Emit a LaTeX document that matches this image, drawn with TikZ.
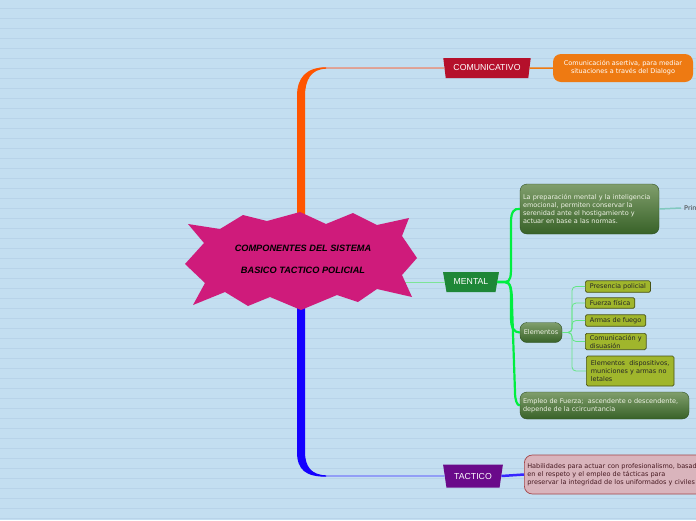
\documentclass[tikz,border=0pt]{standalone}
\usepackage{fontspec}
\setmainfont{DejaVu Sans}
\newfontfamily\arial{Liberation Sans}
\usetikzlibrary{shapes.geometric}

\definecolor{cfondo}{RGB}{195,222,240}
\definecolor{crenglon}{RGB}{184,211,233}
\definecolor{cestrella}{RGB}{207,27,123}
\definecolor{ccomu}{RGB}{181,16,43}
\definecolor{cmental}{RGB}{30,135,55}
\definecolor{ctactico}{RGB}{106,10,138}
\definecolor{ctroncoO}{RGB}{255,85,0}
\definecolor{cramaO}{RGB}{240,135,105}
\definecolor{ctroncoB}{RGB}{20,0,255}
\definecolor{cramaB}{RGB}{120,125,250}
\definecolor{cverdeR}{RGB}{0,238,64}
\definecolor{cverdeC}{RGB}{125,228,150}
\definecolor{cverdeA}{RGB}{128,158,108}
\definecolor{cverdeB}{RGB}{56,98,40}
\definecolor{coliva}{RGB}{160,182,44}
\definecolor{cnaranja}{RGB}{238,122,18}
\definecolor{crosa}{RGB}{217,180,188}
\definecolor{cteal}{RGB}{128,200,190}

\newcommand\chico{\fontsize{6.5}{8}\selectfont}
\newcommand\rotulo{\arial\fontsize{8.7}{10}\selectfont}
\newcommand\titulo{\arial\bfseries\itshape\fontsize{9.2}{22}\selectfont}

\tikzset{mapa/.style={x=1pt,y=-1pt,font=\chico},
  tema/.style={trapezium,trapezium stretches=true,shape border rotate=180,
    minimum height=20pt,inner sep=1pt,text=white,font=\rotulo},
  verde/.style={rounded corners=7pt,top color=cverdeA,bottom color=cverdeB,
    draw=cverdeB!80!black,line width=0.4pt,text={rgb,255:red,238;green,242;blue,228},
    align=left,inner xsep=3pt,inner ysep=0pt},
  oliva/.style={draw=coliva!45!black,fill=coliva,line width=0.7pt,rounded corners=1.5pt,
    align=left,anchor=west,inner xsep=4.5pt,inner ysep=2.6pt,text=black!85},
  subrama/.style={cverdeC!80!cverdeR,line width=0.8pt,rounded corners=4pt}}

\begin{document}
\begin{tikzpicture}[mapa]
    \clip (0,0) rectangle (696,520);
    \fill[cfondo] (0,0) rectangle (696,520);
    \foreach \y in {8,18,...,518} \draw[crenglon,line width=0.7pt] (0,\y) -- (696,\y);
    \coordinate (hub) at (301,261);

    \node[tema,fill=ccomu,minimum width=88pt,trapezium angle=76] (comu) at (487,68) {COMUNICATIVO};
    \node[tema,fill=cmental,minimum width=56pt,trapezium angle=72] (mental) at (471,282) {MENTAL};
    \node[tema,fill=ctactico,minimum width=60pt,minimum height=23pt,trapezium angle=73] (tact) at (473,476) {TACTICO};

    % troncos
    \draw[cramaO,line width=1.4pt,rounded corners=24pt] (hub) |- (comu.west);
    \fill[ctroncoO] ([xshift=-4pt]hub) -- (297,96) .. controls (297,78) and (306,67.3) .. (326,67.3)
      -- (326,68.7) .. controls (311,69) and (305,80) .. (305,96) -- ([xshift=4pt]hub) -- cycle;
    \draw[cramaB,line width=1.4pt,rounded corners=24pt] (hub) |- (tact.west);
    \fill[ctroncoB] ([xshift=-4pt]hub) -- (297,452) .. controls (297,470) and (306,476.7) .. (326,476.7)
      -- (326,475.3) .. controls (311,475) and (305,466) .. (305,452) -- ([xshift=4pt]hub) -- cycle;
    \draw[cverdeC,line width=1pt] (hub |- mental.west) -- (mental.west);

    \fill[cestrella] (188,224) -- (220,229) -- (243,215) -- (267,221) -- (300,212) -- (326,224)
      -- (353,213) -- (377,225) -- (409,218) -- (402,236) -- (417,258) -- (402,275) -- (412,297)
      -- (377,289) -- (358,302) -- (337,295) -- (301,310) -- (270,297) -- (248,306) -- (225,292)
      -- (193,305) -- (205,283) -- (185,264) -- (204,243) -- cycle;
    \node[font=\titulo,align=center] (centro) at (303,259.5) {COMPONENTES DEL SISTEMA\\BASICO TACTICO POLICIAL};

    \node[fill=cnaranja,rounded corners=8pt,minimum width=140pt,minimum height=28pt,
      align=center,text=white,inner sep=1pt] (asert) at (623,68)
      {Comunicación asertiva, para mediar\\situaciones a través del Dialogo};
    \draw[cnaranja,line width=1.5pt] (comu.east) -- (asert.west);

    \node[verde,text width=133pt,minimum height=50pt] (prep) at (589.5,209)
      {La preparación mental y la inteligencia\\emocional, permiten conservar la\\serenidad ante el hostigamiento y\\actuar en base a las normas.};
    \node[verde,minimum width=42pt,minimum height=20pt] (elem) at (541,332.5) {Elementos};
    \node[verde,text width=163pt,minimum height=27pt] (empleo) at (604.5,405.5)
      {Empleo de Fuerza;\ \ ascendente o descendente,\\depende de la ccircuntancia};
    \node[anchor=west,inner xsep=3pt,text=black!75] (prin) at (681,208) {Prin};
    \draw[cteal,line width=1.5pt] (prep.east) -- (prin.west);

    \draw[cverdeR,line width=2.2pt] (mental.east) -- (505,282) .. controls (511,282) and (511,276) .. (511,264)
      -- (511,222) .. controls (511,212) and (514,208) .. (prep.west);
    \draw[cverdeR,line width=2.2pt] (mental.east) -- (505,282) .. controls (511,282) and (511,290) .. (511,300)
      -- (511,318) .. controls (511,328) and (514,332.5) .. (elem.west);
    \draw[cverdeR,line width=2.2pt] (mental.east) -- (505,282) .. controls (511,282) and (512,290) .. (512,305)
      -- (515,392) .. controls (515,400) and (517,405.5) .. (empleo.west);

    \node[oliva] (presencia) at (585,286.5) {Presencia policial};
    \node[oliva] (fuerza) at (585,303) {Fuerza física};
    \node[oliva] (armas) at (585,320.5) {Armas de fuego};
    \node[oliva,inner ysep=1.5pt] (comdis) at (585,341.5) {Comunicación y\\disuasión};
    \node[oliva,minimum height=30pt] (disp) at (586,371) {Elementos\ \ dispositivos,\\municiones y armas no\\letales};
    \foreach \hijo in {presencia,fuerza,armas,comdis,disp}
      \draw[subrama] (elem.east) -- (572,332.5) |- (\hijo.west);

    \node[fill=crosa,draw=crosa!55!red!70!black,line width=0.7pt,rounded corners=8pt,
      text width=176pt,minimum height=39pt,align=left,inner xsep=3pt,inner ysep=0pt,
      text={rgb,255:red,70;green,25;blue,32},anchor=west] (habil) at (524,474.5)
      {Habilidades para actuar con profesionalismo, basad\\en el respeto y el empleo de tácticas para\\preservar la integridad de los uniformados y civiles};
    \draw[ctroncoB!85!white,line width=2.5pt] (tact.east) -- (habil.west);
\end{tikzpicture}
\end{document}
